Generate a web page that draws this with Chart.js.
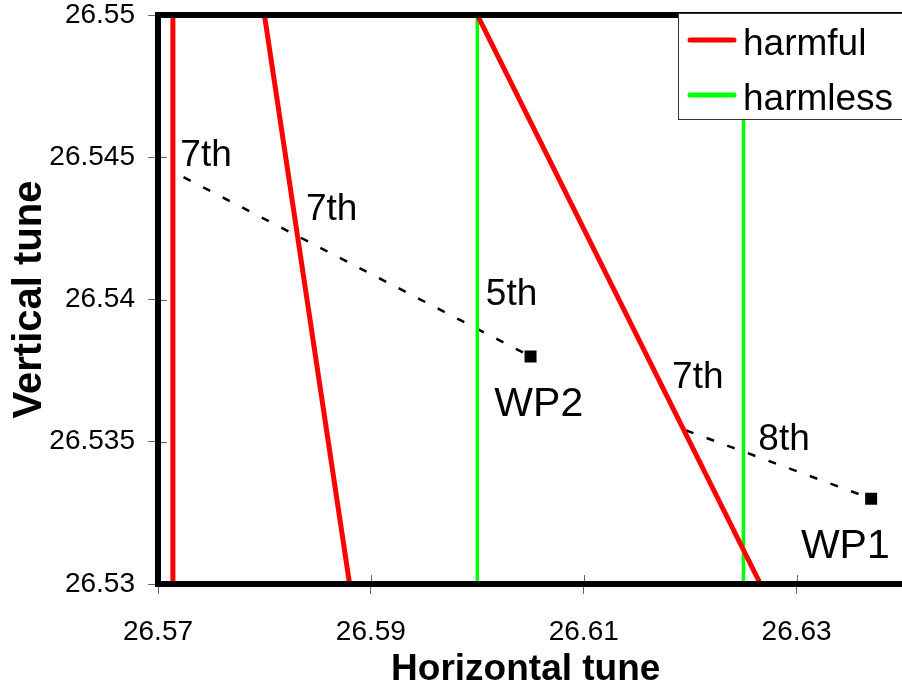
<!DOCTYPE html>
<html>
<head>
<meta charset="utf-8">
<script src="https://cdn.jsdelivr.net/npm/chart.js@4/dist/chart.umd.min.js"></script>
<style>
  html, body { margin: 0; padding: 0; background: #fff; }
  #wrap { width: 902px; height: 692px; }
</style>
</head>
<body>
<div id="wrap"><canvas id="chart"></canvas></div>
<script>
// tune-space ticks
const xTicks = [26.57, 26.59, 26.61, 26.63];
const yTicks = [26.53, 26.535, 26.54, 26.545, 26.55];

// resonance lines as [start, end] points
const harmfulLines = [
    [[26.5714, 26.53], [26.5714, 26.55]],
    [[26.5800, 26.55], [26.5880, 26.53]],
    [[26.6000, 26.55], [26.6266, 26.53]],
];
const harmlessLines = [
    [[26.6000, 26.53], [26.6000, 26.55]],
    [[26.6250, 26.53], [26.6250, 26.55]],
];
// dotted tune paths towards the working points
const pathLines = [
    [[26.5724, 26.5443], [26.6050, 26.5380]],
    [[26.6196, 26.5354], [26.6370, 26.5330]],
];
const wpX = [26.637, 26.605];
const wpY = [26.533, 26.538];

// text notes, anchored at left / baseline
const noteText = ['7th', '7th', '5th', '7th', '8th', 'WP1', 'WP2'];
const noteX = [26.5721, 26.5839, 26.6008, 26.6183, 26.6264, 26.6304, 26.6016];
const noteY = [26.5447, 26.5428, 26.5398, 26.5369, 26.5347, 26.5309, 26.5359];

const legendNames = ['harmful', 'harmless'];
const legendColors = ['#ff0000', '#00ff00'];

const toPts = seg => seg.map(([x, y]) => ({ x, y }));

const datasets = [
    ...harmfulLines.map(seg => ({
        data: toPts(seg), showLine: true, borderColor: legendColors[0],
        borderWidth: 5, pointRadius: 0,
    })),
    ...harmlessLines.map(seg => ({
        data: toPts(seg), showLine: true, borderColor: legendColors[1],
        borderWidth: 3.5, pointRadius: 0,
    })),
    ...pathLines.map(seg => ({
        data: toPts(seg), showLine: true, borderColor: '#000',
        borderWidth: 2.5, borderDash: [8, 14], pointRadius: 0,
    })),
    {
        data: wpX.map((x, i) => ({ x, y: wpY[i] })),
        pointStyle: 'rect', pointRadius: 8.5, pointBackgroundColor: '#000',
        pointBorderWidth: 0, showLine: false,
    },
];

const fmt = v => String(+Number(v).toFixed(3));

// thick frame on left/top/bottom plus inner tick stubs
const framePlugin = {
    id: 'frame',
    afterDatasetsDraw(chart) {
        const { ctx, chartArea: a, scales } = chart;
        ctx.save();
        ctx.strokeStyle = '#666';
        ctx.lineWidth = 1;
        ctx.beginPath();
        scales.x.ticks.forEach(t => {
            const px = Math.round(scales.x.getPixelForValue(t.value)) + 0.5;
            ctx.moveTo(px, a.bottom);
            ctx.lineTo(px, a.bottom - 9);
        });
        scales.y.ticks.forEach(t => {
            const py = Math.round(scales.y.getPixelForValue(t.value)) + 0.5;
            ctx.moveTo(a.left, py);
            ctx.lineTo(a.left + 9, py);
        });
        ctx.stroke();

        ctx.strokeStyle = '#000';
        ctx.lineWidth = 6;
        ctx.lineCap = 'square';
        ctx.beginPath();
        ctx.moveTo(chart.width + 10, a.top);
        ctx.lineTo(a.left, a.top);
        ctx.lineTo(a.left, a.bottom);
        ctx.lineTo(chart.width + 10, a.bottom);
        ctx.stroke();
        ctx.restore();
    },
};

const notesPlugin = {
    id: 'notes',
    afterDatasetsDraw(chart) {
        const { ctx, scales } = chart;
        ctx.save();
        ctx.fillStyle = '#000';
        ctx.textAlign = 'left';
        ctx.textBaseline = 'alphabetic';
        noteText.forEach((txt, i) => {
            const size = txt.startsWith('WP') ? 41 : 37;
            ctx.font = size + 'px "Liberation Sans", Arial, sans-serif';
            ctx.fillText(txt, scales.x.getPixelForValue(noteX[i]), scales.y.getPixelForValue(noteY[i]));
        });
        ctx.restore();
    },
};

const legendPlugin = {
    id: 'boxLegend',
    afterDraw(chart) {
        const { ctx } = chart;
        const left = chart.width - 224, top = 13;
        ctx.save();
        ctx.fillStyle = '#fff';
        ctx.fillRect(left, top, 260, 106);
        ctx.strokeStyle = '#333';
        ctx.lineWidth = 1;
        ctx.strokeRect(left + 0.5, top + 0.5, 260, 106);
        ctx.font = '37px "Liberation Sans", Arial, sans-serif';
        ctx.textBaseline = 'alphabetic';
        legendNames.forEach((name, i) => {
            const y = top + 27 + i * 55;
            ctx.strokeStyle = legendColors[i];
            ctx.lineWidth = 5;
            ctx.lineCap = 'round';
            ctx.beginPath();
            ctx.moveTo(left + 12, y);
            ctx.lineTo(left + 56, y);
            ctx.stroke();
            ctx.fillStyle = '#000';
            ctx.fillText(name, left + 65, y + 15);
        });
        ctx.restore();
    },
};

new Chart(document.getElementById('chart'), {
    type: 'scatter',
    data: { datasets },
    options: {
        responsive: true,
        maintainAspectRatio: false,
        animation: false,
        events: [],
        layout: { padding: 0 },
        plugins: { legend: { display: false }, tooltip: { enabled: false } },
        scales: {
            x: {
                type: 'linear',
                min: 26.57,
                max: 26.6391,
                afterBuildTicks: s => { s.ticks = xTicks.map(value => ({ value })); },
                afterFit: s => { s.height = 108; },
                border: { display: false },
                grid: { drawOnChartArea: false, tickLength: 10, color: '#666', lineWidth: 1 },
                ticks: {
                    callback: fmt, autoSkip: false, maxRotation: 0, padding: 24,
                    color: '#000', font: { family: '"Liberation Sans", Arial, sans-serif', size: 28, lineHeight: 1 },
                },
                title: {
                    display: true, text: 'Horizontal tune', color: '#000', padding: 0,
                    font: { family: '"Liberation Sans", Arial, sans-serif', size: 37, weight: 'bold', lineHeight: 1.2 },
                },
            },
            y: {
                type: 'linear',
                min: 26.53,
                max: 26.55,
                afterBuildTicks: s => { s.ticks = yTicks.map(value => ({ value })); },
                afterFit: s => { s.width = 158; s.paddingTop = 15; s.paddingBottom = 0; },
                border: { display: false },
                grid: { drawOnChartArea: false, tickLength: 10, color: '#666', lineWidth: 1 },
                ticks: {
                    callback: fmt, autoSkip: false, padding: 13,
                    color: '#000', font: { family: '"Liberation Sans", Arial, sans-serif', size: 28, lineHeight: 1.09 },
                },
                title: {
                    display: true, text: 'Vertical tune', color: '#000', padding: { top: 6, bottom: 0 },
                    font: { family: '"Liberation Sans", Arial, sans-serif', size: 40, weight: 'bold', lineHeight: 1.2 },
                },
            },
        },
    },
    plugins: [framePlugin, notesPlugin, legendPlugin],
});
</script>
</body>
</html>
